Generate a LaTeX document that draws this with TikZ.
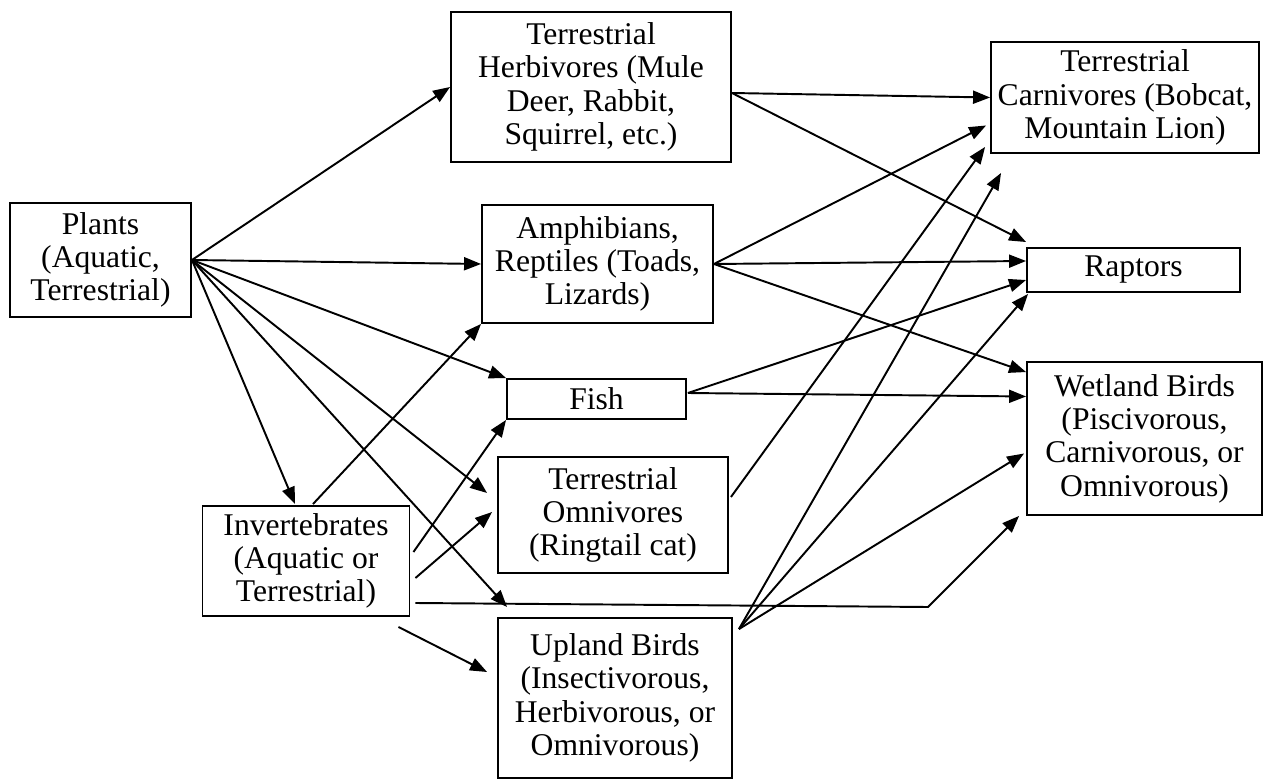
\documentclass[tikz,border=0pt]{standalone}
\usepackage{fontspec}
\setmainfont{Liberation Serif}
\usepackage{tikz}
\usetikzlibrary{arrows.meta,calc}

\begin{document}
\begin{tikzpicture}[x=0.02cm, y=-0.02cm, line width=1.1pt, >={Triangle[length=3.4mm,width=2.6mm]}]
   \useasboundingbox (0,0) rectangle (1264,780);
   \begin{scope}[every node/.style={rectangle,draw=black,line width=1.1pt,align=center,inner sep=0pt,font=\fontsize{18}{19}\selectfont}]
    \node (plants) [minimum width=3.62cm, minimum height=2.28cm] at (100.5,260) {Plants\\(Aquatic,\\Terrestrial)};
    \node (herb) [minimum width=5.6cm, minimum height=3.0cm] at (591,87) {Terrestrial\\Herbivores (Mule\\Deer, Rabbit,\\Squirrel, etc.)};
    \node (amph) [minimum width=4.62cm, minimum height=2.36cm] at (597.5,264) {Amphibians,\\Reptiles (Toads,\\Lizards)};
    \node (fish) [minimum width=3.58cm, minimum height=0.8cm] at (596.5,399) {Fish};
    \node (omni) [minimum width=4.6cm, minimum height=2.32cm] at (613,515) {Terrestrial\\Omnivores\\(Ringtail cat)};
    \node (invert) [minimum width=4.14cm, minimum height=2.2cm] at (306,561) {Invertebrates\\(Aquatic or\\Terrestrial)};
    \node (upland) [minimum width=4.68cm, minimum height=3.2cm] at (615,698) {Upland Birds\\(Insectivorous,\\Herbivorous, or\\Omnivorous)};
    \node (carn) [minimum width=5.36cm, minimum height=2.22cm] at (1125,97.5) {Terrestrial\\Carnivores (Bobcat,\\Mountain Lion)};
    \node (raptors) [minimum width=4.26cm, minimum height=0.88cm] at (1133.5,270) {Raptors};
    \node (wetland) [minimum width=4.7cm, minimum height=3.06cm] at (1144.5,438.5) {Wetland Birds\\(Piscivorous,\\Carnivorous, or\\Omnivorous)};
   \end{scope}
   \coordinate (bend) at (928,607);
   \begin{scope}[every edge/.style={draw=black, line width=1.1pt, ->}]
    % what the plants feed
    \draw (plants.east) edge (herb.west);
    \draw (plants.east) edge (amph.west);
    \draw (plants.east) edge (fish.north west);
    \draw (plants.east) edge ($(invert.north)+(-11,-1)$);
    \draw (plants.east) edge ($(omni.west)+(-10,-22)$);
    \draw (plants.east) edge ($(upland.north west)+(10,-10)$);
    % invertebrates
    \draw ($(invert.north)+(7,-1)$) edge (amph.south west);
    \draw ($(invert.east)+(3,-9)$) edge (fish.south west);
    \draw ($(invert.east)+(5,17)$) edge ($(omni.west)+(-5,-3)$);
    \draw ($(invert.south east)+(-12,10)$) edge ($(upland.west)+(-10,-26)$);
    \draw[->] ($(invert.east)+(5,42)$) -- (bend) -- ($(wetland.south west)+(-7,0)$);
    % herbivores, amphibians, fish
    \draw ($(herb.east)+(0,6)$) edge (carn.west);
    \draw ($(herb.east)+(0,6)$) edge ($(raptors.north west)+(0,-5)$);
    \draw (amph.east) edge ($(carn.west)+(-4,28)$);
    \draw (amph.east) edge ($(raptors.west)+(0,-9)$);
    \draw (amph.east) edge ($(wetland.north west)+(0,11)$);
    \draw ($(fish.east)+(1,-6)$) edge ($(raptors.west)+(0,10)$);
    \draw ($(fish.east)+(1,-6)$) edge ($(wetland.west)+(0,-42)$);
    % omnivores and upland birds
    \draw ($(omni.east)+(2,-18)$) edge ($(carn.south west)+(-5,-7)$);
    \draw ($(upland.north east)+(6,12)$) edge ($(carn.south west)+(11,19)$);
    \draw ($(upland.north east)+(6,12)$) edge ($(raptors.south west)+(2,1)$);
    \draw ($(upland.north east)+(6,12)$) edge ($(wetland.west)+(-2,15)$);
   \end{scope}
\end{tikzpicture}
\end{document}
